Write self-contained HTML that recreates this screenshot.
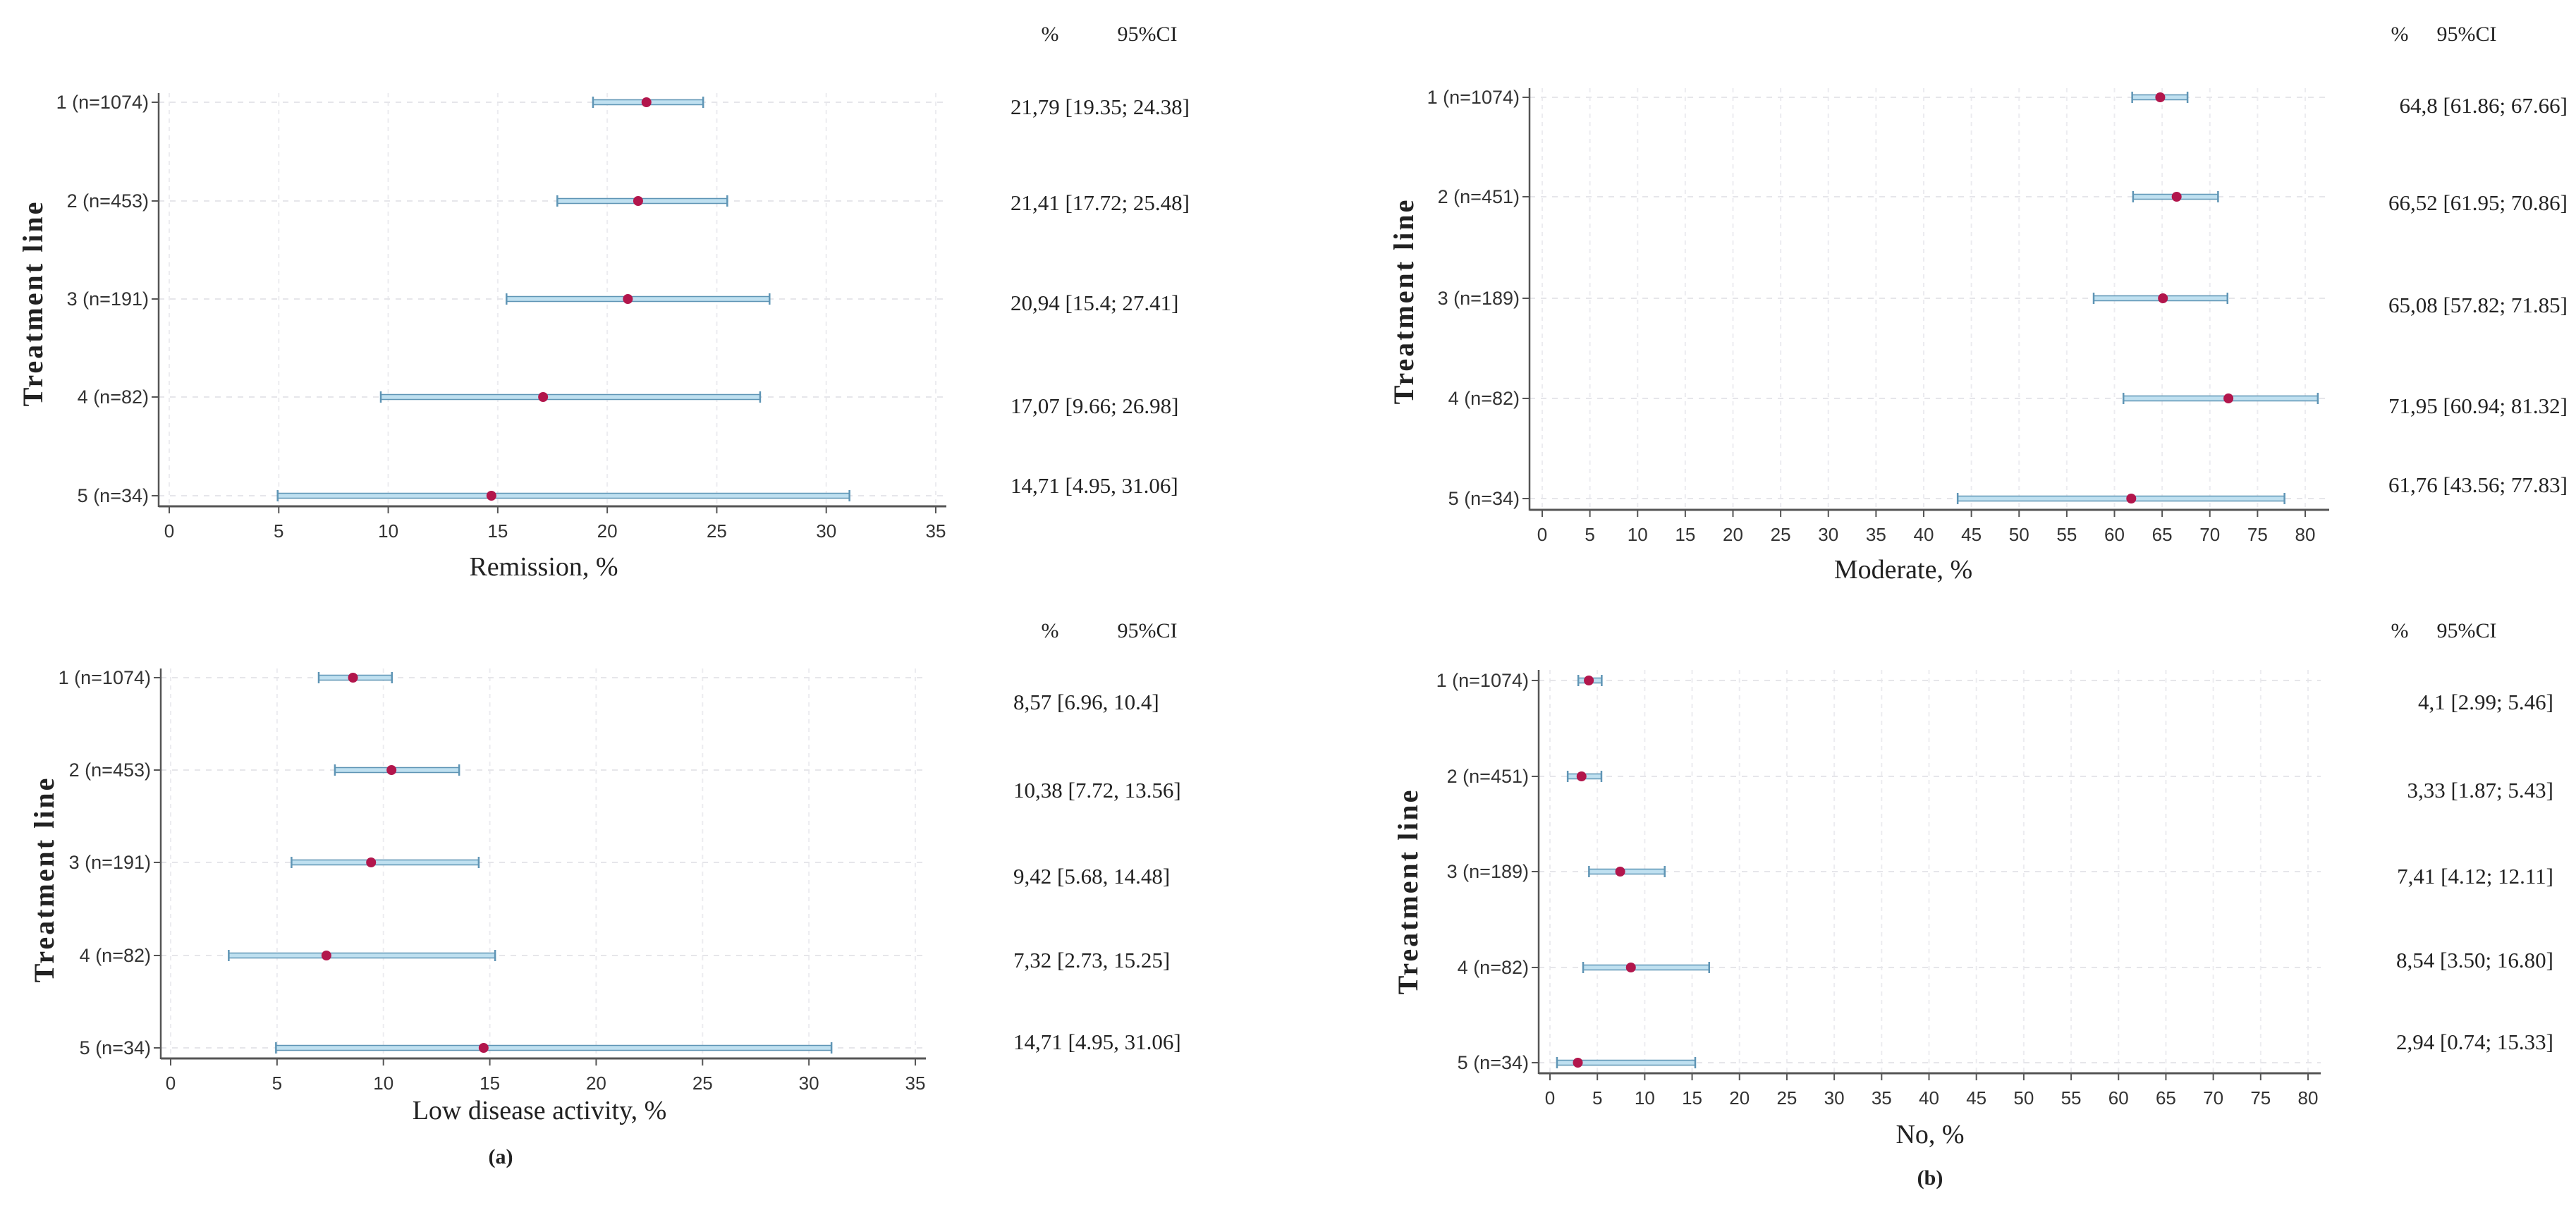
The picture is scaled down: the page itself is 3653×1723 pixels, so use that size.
<!DOCTYPE html>
<html><head><meta charset="utf-8"><style>
html,body{margin:0;padding:0;background:#fff}
svg{display:block}
.tk{font-family:"Liberation Sans",sans-serif;font-size:26px;fill:#333}
.cl{font-family:"Liberation Sans",sans-serif;font-size:27px;fill:#333}
.sr{font-family:"Liberation Serif",serif;fill:#222}
</style></head><body>
<svg id="fig" width="3653" height="1723" viewBox="0 0 3653 1723" xmlns="http://www.w3.org/2000/svg"></svg>
<script>
const labelsA = ["1 (n=1074)","2 (n=453)","3 (n=191)","4 (n=82)","5 (n=34)"];
const labelsB = ["1 (n=1074)","2 (n=451)","3 (n=189)","4 (n=82)","5 (n=34)"];
const remEst = [21.79,21.41,20.94,17.07,14.71];
const remLo = [19.35,17.72,15.4,9.66,4.95];
const remHi = [24.38,25.48,27.41,26.98,31.06];
const remTxt = ["21,79 [19.35; 24.38]","21,41 [17.72; 25.48]","20,94 [15.4; 27.41]","17,07 [9.66; 26.98]","14,71 [4.95, 31.06]"];
const modEst = [64.8,66.52,65.08,71.95,61.76];
const modLo = [61.86,61.95,57.82,60.94,43.56];
const modHi = [67.66,70.86,71.85,81.32,77.83];
const modTxt = ["64,8 [61.86; 67.66]","66,52 [61.95; 70.86]","65,08 [57.82; 71.85]","71,95 [60.94; 81.32]","61,76 [43.56; 77.83]"];
const ldaEst = [8.57,10.38,9.42,7.32,14.71];
const ldaLo = [6.96,7.72,5.68,2.73,4.95];
const ldaHi = [10.4,13.56,14.48,15.25,31.06];
const ldaTxt = ["8,57 [6.96, 10.4]","10,38 [7.72, 13.56]","9,42 [5.68, 14.48]","7,32 [2.73, 15.25]","14,71 [4.95, 31.06]"];
const noEst = [4.1,3.33,7.41,8.54,2.94];
const noLo = [2.99,1.87,4.12,3.50,0.74];
const noHi = [5.46,5.43,12.11,16.80,15.33];
const noTxt = ["4,1 [2.99; 5.46]","3,33 [1.87; 5.43]","7,41 [4.12; 12.11]","8,54 [3.50; 16.80]","2,94 [0.74; 15.33]"];
const ticksA = [0,5,10,15,20,25,30,35];
const ticksB = [0,5,10,15,20,25,30,35,40,45,50,55,60,65,70,75,80];

const NS="http://www.w3.org/2000/svg";
const svg=document.getElementById('fig');
function mk(tag,attrs,parent,text){const e=document.createElementNS(NS,tag);for(const k in attrs)e.setAttribute(k,attrs[k]);if(text!==undefined)e.textContent=text;(parent||svg).appendChild(e);return e;}

function panel(p){
  const g=mk('g',{});
  
  
  const xs=v=>p.x0+(v-p.t0)*(p.x1-p.x0)/(p.t1-p.t0);
  p.ticks.forEach(t=>{
    const l=mk('line',{x1:xs(t),x2:xs(t),y1:p.top,y2:p.axisY,stroke:'#ececf0','stroke-width':2,'stroke-dasharray':'6 6'},g);
    
    
  });
  p.rows.forEach(y=>{
    const l=mk('line',{x1:p.axisX,x2:p.axisR,y1:y,y2:y,stroke:'#e6e6ea','stroke-width':2,'stroke-dasharray':'8 8'},g);
    
    
  });
  const ya=mk('line',{x1:p.axisX,x2:p.axisX,y1:p.top,y2:p.axisY+1,stroke:'#555','stroke-width':2.5},g);
  
  
  const xa=mk('line',{x1:p.axisX,x2:p.axisR,y1:p.axisY,y2:p.axisY,stroke:'#555','stroke-width':3},g);
  
  
  p.ticks.forEach(t=>{
    mk('line',{x1:xs(t),x2:xs(t),y1:p.axisY,y2:p.axisY+10,stroke:'#555','stroke-width':2},g);
    const tl=mk('text',{x:xs(t),y:p.axisY+44,'text-anchor':'middle',class:'tk'},g,String(t));
    
    
  });
  p.labels.forEach((lab,i)=>{
    mk('line',{x1:p.axisX-10,x2:p.axisX,y1:p.rows[i],y2:p.rows[i],stroke:'#555','stroke-width':2},g);
    const tl=mk('text',{x:p.axisX-14,y:p.rows[i]+9,'text-anchor':'end',class:'cl'},g,lab);
    
    
  });
  p.est.forEach((v,i)=>{
    const y=p.rows[i],a=xs(p.lo[i]),b=xs(p.hi[i]);
    const r=mk('rect',{x:a,y:y-3.5,width:b-a,height:7,fill:'#bfe0f0',stroke:'#5f95b5','stroke-width':1.5},g);
    
    
    mk('line',{x1:a,x2:a,y1:y-8,y2:y+8,stroke:'#5f95b5','stroke-width':2.5},g);
    mk('line',{x1:b,x2:b,y1:y-8,y2:y+8,stroke:'#5f95b5','stroke-width':2.5},g);
    const c=mk('circle',{cx:xs(v),cy:y,r:7,fill:'#b2164c'},g);
    
    
    const t=mk('text',{x:p.txtX,y:p.txtY[i],'text-anchor':p.txtAnchor,class:'sr','font-size':31},g,p.txt[i]);
    
    
  });
  const h1=mk('text',{x:p.hdrPct,y:p.hdrY,'text-anchor':'middle',class:'sr','font-size':30},g,'%');
  
  
  const h2=mk('text',{x:p.hdrCI,y:p.hdrY,'text-anchor':'middle',class:'sr','font-size':30},g,'95%CI');
  
  
  const xt=mk('text',{x:p.xtX,y:p.xtY,'text-anchor':'middle',class:'sr','font-size':38},g,p.xtitle);
  
  
  const yt=mk('text',{x:p.ytX,y:p.ytY,'text-anchor':'middle',class:'sr','font-size':40,'font-weight':'bold','letter-spacing':'3','transform':`rotate(-90 ${p.ytX} ${p.ytY})`},g,'Treatment line');
  
  
}

panel({name:'remission-panel',labels:labelsA,est:remEst,lo:remLo,hi:remHi,txt:remTxt,ticks:ticksA,t0:0,t1:35,
  x0:240,x1:1327,axisX:225,axisR:1342,top:132,axisY:718,rows:[145,285,424,563,703],
  txtX:1433,txtAnchor:'start',txtY:[162,298,440,586,699],hdrPct:1489,hdrCI:1627,hdrY:58,xtX:771,xtY:816,xtitle:'Remission, %',ytX:60,ytY:430});
panel({name:'moderate-panel',labels:labelsB,est:modEst,lo:modLo,hi:modHi,txt:modTxt,ticks:ticksB,t0:0,t1:80,
  x0:2187,x1:3269,axisX:2169,axisR:3303,top:125,axisY:723,rows:[138,279,423,565,707],
  txtX:3641,txtAnchor:'end',txtY:[160,298,443,586,698],hdrPct:3403,hdrCI:3498,hdrY:58,xtX:2699,xtY:820,xtitle:'Moderate, %',ytX:2004,ytY:427});
panel({name:'low-disease-activity-panel',labels:labelsA,est:ldaEst,lo:ldaLo,hi:ldaHi,txt:ldaTxt,ticks:ticksA,t0:0,t1:35,
  x0:242,x1:1298,axisX:228,axisR:1313,top:948,axisY:1501,rows:[961,1092,1223,1355,1486],
  txtX:1437,txtAnchor:'start',txtY:[1006,1131,1253,1372,1488],hdrPct:1489,hdrCI:1627,hdrY:904,xtX:765,xtY:1587,xtitle:'Low disease activity, %',ytX:76,ytY:1247});
panel({name:'no-activity-panel',labels:labelsB,est:noEst,lo:noLo,hi:noHi,txt:noTxt,ticks:ticksB,t0:0,t1:80,
  x0:2198,x1:3273,axisX:2182,axisR:3291,top:950,axisY:1522,rows:[965,1101,1236,1372,1507],
  txtX:3621,txtAnchor:'end',txtY:[1006,1131,1253,1372,1488],hdrPct:3403,hdrCI:3498,hdrY:904,xtX:2737,xtY:1621,xtitle:'No, %',ytX:2010,ytY:1264});

const la=mk('text',{x:710,y:1650,'text-anchor':'middle',class:'sr','font-size':30,'font-weight':'bold'},svg,'(a)');


const lb=mk('text',{x:2737,y:1680,'text-anchor':'middle',class:'sr','font-size':30,'font-weight':'bold'},svg,'(b)');


</script>
</body></html>
